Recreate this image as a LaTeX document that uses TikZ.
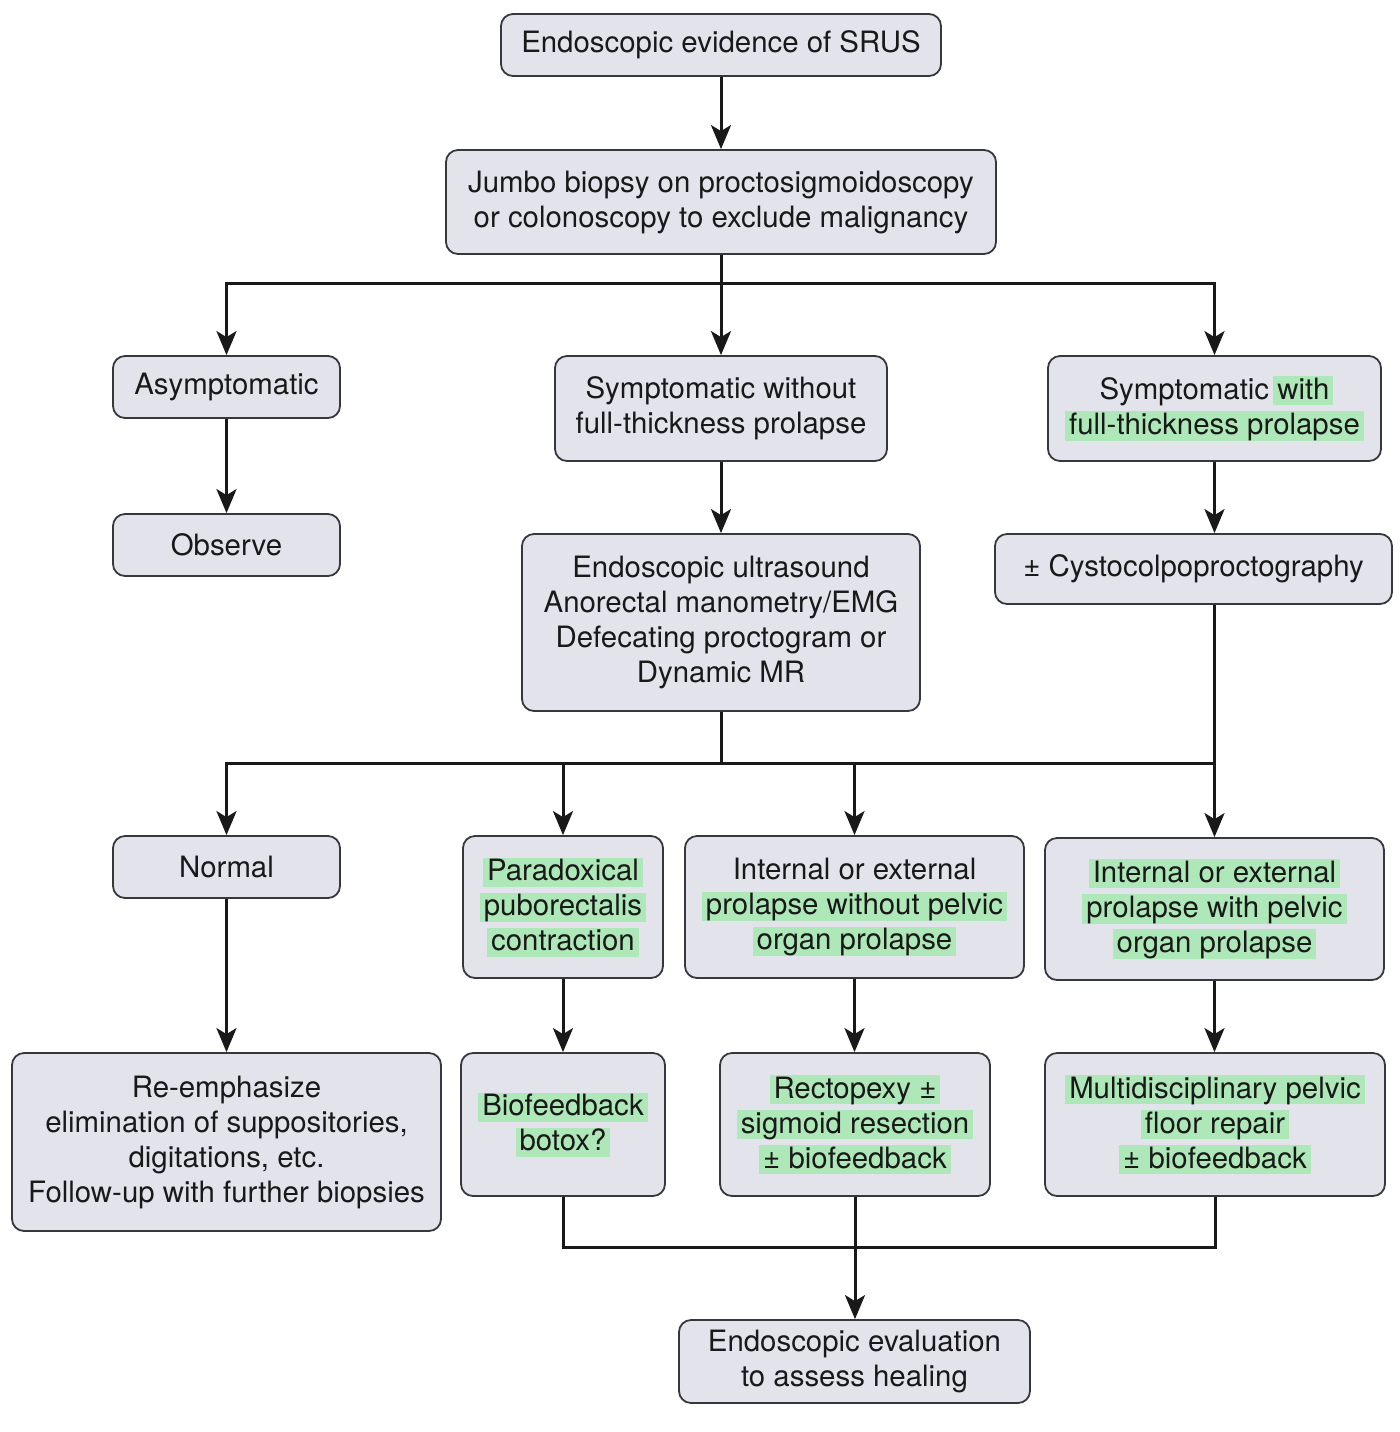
\documentclass[tikz,border=0pt]{standalone}
\usepackage{fontspec}
\setmainfont{TeX Gyre Heros}
\usetikzlibrary{arrows.meta}
\definecolor{boxfill}{RGB}{227,227,235}
\definecolor{boxline}{RGB}{55,55,62}
\definecolor{hlgreen}{RGB}{174,232,184}
\definecolor{txt}{RGB}{25,25,25}
\newcommand{\hlg}[1]{{\setlength{\fboxsep}{0pt}\kern-2pt\colorbox{hlgreen}{\kern2pt\rule[-3pt]{0pt}{14.5pt}#1\kern2pt}\kern-2pt}}
\begin{document}
\begin{tikzpicture}[x=0.5pt,y=-0.5pt,
  box/.style={draw=boxline, fill=boxfill, line width=0.9pt, rounded corners=6pt, inner sep=0pt, align=center, text=txt, font=\fontsize{14.7}{17.5}\selectfont},
  ln/.style={line width=1.5pt, draw=txt},
  arr/.style={ln, -{Stealth[length=12pt,width=10pt,inset=3pt]}}]
\useasboundingbox (0,0) rectangle (1400,1432);
\node[box, minimum width=220pt, minimum height=31pt] (top) at (721,45) {Endoscopic evidence of SRUS};
\node[box, minimum width=275pt, minimum height=52pt] (jumbo) at (721,202) {Jumbo biopsy on proctosigmoidoscopy\\or colonoscopy to exclude malignancy};
\node[box, minimum width=113.5pt, minimum height=31pt] (asym) at (226.5,387) {Asymptomatic};
\node[box, minimum width=166pt, minimum height=52.5pt] (swo) at (721,408.5) {Symptomatic without\\full-thickness prolapse};
\node[box, minimum width=166.5pt, minimum height=52.5pt] (sw) at (1214.5,408.5) {Symptomatic \hlg{with}\\\hlg{full-thickness prolapse}};
\node[box, minimum width=113.5pt, minimum height=31pt] (obs) at (226.5,545) {Observe};
\node[box, minimum width=199pt, minimum height=88.5pt] (eus) at (721,622.5) {Endoscopic ultrasound\\Anorectal manometry/EMG\\Defecating proctogram or\\Dynamic MR};
\node[box, minimum width=198.5pt, minimum height=35pt] (cys) at (1193.5,569) {± Cystocolpoproctography};
\node[box, minimum width=113.5pt, minimum height=31pt] (norm) at (226.5,867) {Normal};
\node[box, minimum width=100pt, minimum height=71pt] (para) at (563,907) {\hlg{Paradoxical}\\\hlg{puborectalis}\\\hlg{contraction}};
\node[box, minimum width=169.5pt, minimum height=71pt] (iwo) at (854.5,907) {Internal or external\\\hlg{prolapse without pelvic}\\\hlg{organ prolapse}};
\node[box, minimum width=169.5pt, minimum height=71pt] (iw) at (1214.5,909) {\hlg{Internal or external}\\\hlg{prolapse with pelvic}\\\hlg{organ prolapse}};
\node[box, minimum width=214.5pt, minimum height=89pt] (rem) at (226.5,1142) {Re-emphasize\\elimination of suppositories,\\digitations, etc.\\Follow-up with further biopsies};
\node[box, minimum width=102pt, minimum height=71.5pt] (bio) at (563,1124.5) {\hlg{Biofeedback}\\\hlg{botox?}};
\node[box, minimum width=135pt, minimum height=71.5pt] (rec) at (855,1124.5) {\hlg{Rectopexy ±}\\\hlg{sigmoid resection}\\\hlg{± biofeedback}};
\node[box, minimum width=170pt, minimum height=71.5pt] (mul) at (1215,1124.5) {\hlg{Multidisciplinary pelvic}\\\hlg{floor repair}\\\hlg{± biofeedback}};
\node[box, minimum width=175.5pt, minimum height=41.5pt] (eval) at (854.5,1361.5) {Endoscopic evaluation\\to assess healing};
% connectors
\draw[arr] (top) -- (jumbo);
\coordinate (j1) at (721,283);
\draw[arr] (jumbo.south) -- (j1) -| (asym.north);
\draw[arr] (j1) -| (sw.north);
\draw[arr] (j1) -- (swo.north);
\draw[arr] (asym) -- (obs);
\draw[arr] (swo) -- (eus);
\draw[arr] (sw.south) -- (sw.south |- cys.north);
\coordinate (j2) at (721,763);
\draw[arr] (eus.south) -- (j2) -| (norm.north);
\draw[ln] (j2) -- (iw.north |- j2);
\draw[arr] (sw.south |- cys.south) -- (iw.north);
\draw[arr] (para.north |- j2) -- (para.north);
\draw[arr] (iwo.north |- j2) -- (iwo.north);
\draw[arr] (norm) -- (rem);
\draw[arr] (para) -- (bio);
\draw[arr] (iwo.south) -- (iwo.south |- rec.north);
\draw[arr] (iw.south) -- (iw.south |- mul.north);
\coordinate (j3) at (855,1247);
\draw[ln] (bio.south) |- (j3) -| (mul.south);
\draw[arr] (rec.south) -- (rec.south |- eval.north);
\end{tikzpicture}
\end{document}
